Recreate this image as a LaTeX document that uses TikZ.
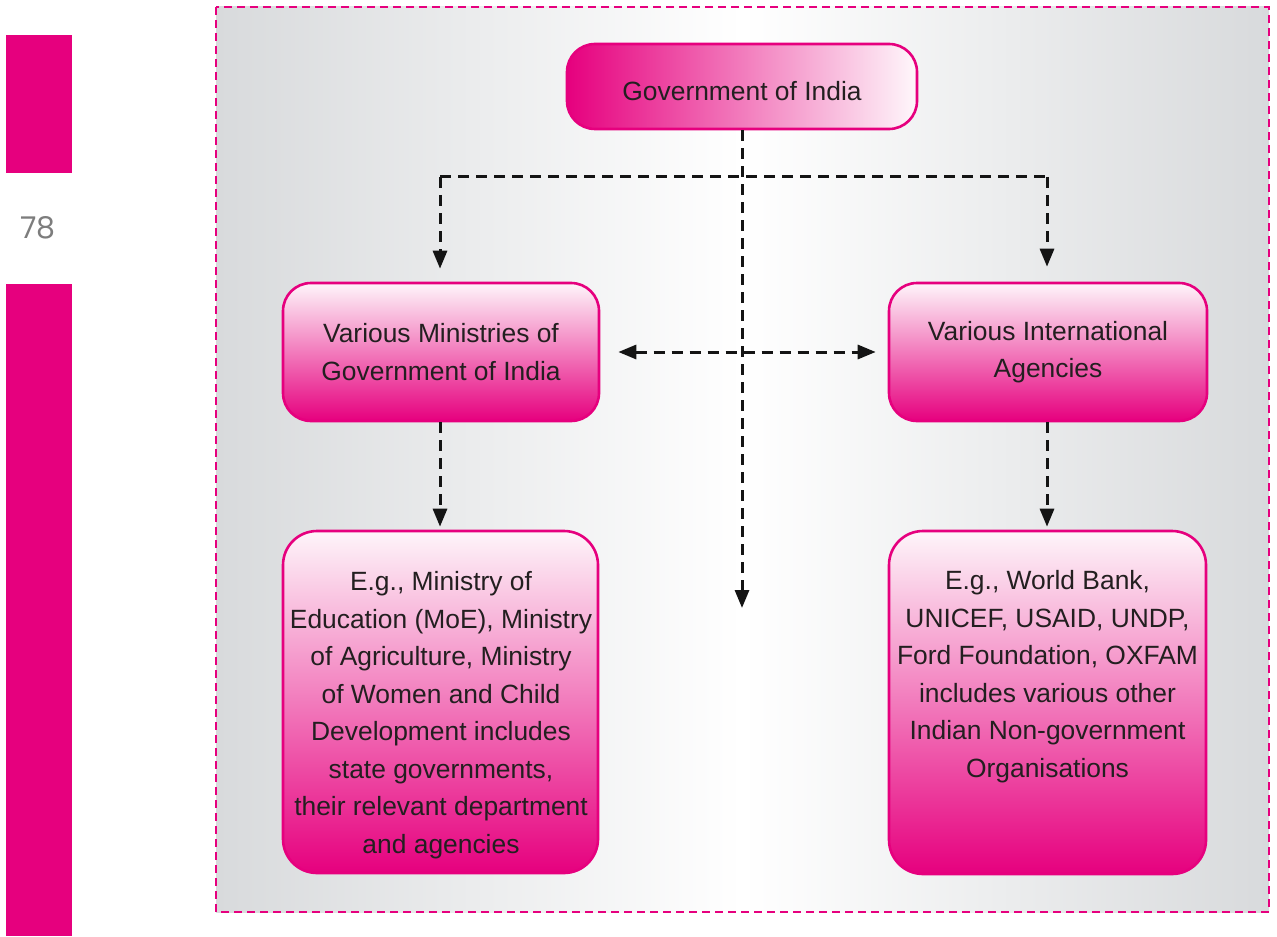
\documentclass[tikz,border=0pt]{standalone}
\usepackage{fontspec}
\setmainfont{Liberation Sans}
\newfontfamily\pagefont{Poppins}
\usetikzlibrary{arrows.meta}
\definecolor{pk}{RGB}{230,0,126}
\definecolor{txtc}{RGB}{35,31,32}
\definecolor{bgG}{RGB}{216,218,220}
\definecolor{pgnum}{RGB}{125,125,125}
\tikzset{
  box/.style={draw=pk, line width=1.3pt, rounded corners=14pt, inner sep=0pt,
    text=txtc, align=center, font=\fontsize{13.2}{18.75}\selectfont},
  hgrad/.style={left color=pk, right color=pk!3},
  vgrad/.style={top color=pk!4, bottom color=pk},
  txtnode/.style={inner sep=0pt, text=txtc, align=center, font=\fontsize{13.2}{18.75}\selectfont},
  conn/.style={draw=black!92, line width=1.5pt, dash pattern=on 5.5pt off 3.5pt},
  arr/.style={conn, -{Triangle[length=9pt,width=7pt]}},
  darr/.style={conn, {Triangle[length=9pt,width=7pt]}-{Triangle[length=9pt,width=7pt]}},
}
\begin{document}
\begin{tikzpicture}[x=0.5pt, y=-0.5pt]
\useasboundingbox (0,0) rectangle (1277,936);
% side bars and page number
\fill[pk] (6,35) rectangle (72,173);
\fill[pk] (6,284) rectangle (72,936);
\node[inner sep=0pt, text=pgnum, font=\pagefont\fontsize{15}{15}\selectfont] (pnum) at (38,228) {78};
% frame
\shade[left color=bgG, right color=bgG, middle color=white] (216,7) rectangle (1269,912);
\draw[pk, line width=1.3pt, dash pattern=on 4pt off 2.5pt] (216,7) rectangle (1269,912);
% boxes
\node[box, hgrad, minimum width=175pt, minimum height=42.5pt] (top) at (742,86.5) {};
\node[txtnode] (toptxt) at (742,91) {Government of India};
\node[box, vgrad, minimum width=158pt, minimum height=69pt] (ml) at (441,352)
  {Various Ministries of\\Government of India};
\node[box, vgrad, minimum width=159pt, minimum height=69pt] (mr) at (1048,352)
  {Various International\\Agencies};
\node[box, vgrad, rounded corners=17pt, minimum width=157.5pt, minimum height=171pt] (bl) at (440.5,702) {};
\node[box, vgrad, rounded corners=17pt, minimum width=158.5pt, minimum height=171.5pt] (br) at (1047.5,702.5) {};
\node[txtnode, anchor=north] (bltxt) at (441,571)
  {E.g., Ministry of\\Education (MoE), Ministry\\of Agriculture, Ministry\\of Women and Child\\Development includes\\state governments,\\their relevant department\\and agencies};
\node[txtnode, anchor=north] (brtxt) at (1047.5,570)
  {E.g., World Bank,\\UNICEF, USAID, UNDP,\\Ford Foundation, OXFAM\\includes various other\\Indian Non-government\\Organisations};
% connectors
\coordinate (hl) at (440,177);
\coordinate (hr) at (1047,177);
\coordinate (cend) at (742,608);
\draw[conn] (hl) -- (hr);
\draw[arr] (top.south) -- (cend);
\draw[arr, shorten >=6.5pt] (hl) -- (ml.north -| hl);
\draw[arr, shorten >=7.5pt] (hr) -- (mr.north -| hr);
\draw[darr, shorten <=9pt, shorten >=6pt] (ml.east) -- (mr.west);
\draw[arr, shorten >=1.5pt] (ml.south -| hl) -- (bl.north -| hl);
\draw[arr, shorten >=1.5pt] (mr.south -| hr) -- (br.north -| hr);
\end{tikzpicture}
\end{document}
